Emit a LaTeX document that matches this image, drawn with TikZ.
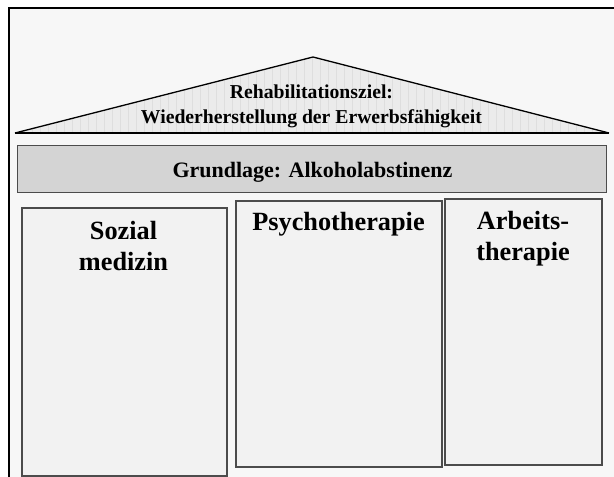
\documentclass[tikz,border=0pt]{standalone}
\usepackage{fontspec}
\setmainfont{Liberation Serif}
\begin{document}
\begin{tikzpicture}[x=1pt,y=-1pt,
  pillar/.style={draw=black!70,line width=1.1pt,fill=black!5},
  label/.style={align=center,inner sep=0pt,anchor=base},
  rooftext/.style={label,font=\bfseries\fontsize{19.7}{24.5}\selectfont},
  basetext/.style={label,font=\bfseries\fontsize{22}{26}\selectfont},
  bigtext/.style={label,font=\bfseries\fontsize{26.3}{31}\selectfont}]
\useasboundingbox (0,0) rectangle (614,477);
% page background and frame
\fill[white] (0,0) rectangle (614,477);
\fill[black!3] (9,8) rectangle (620,480);
\draw[line width=2pt] (9,480) -- (9,8) -- (620,8);
% roof
\coordinate (apex) at (313,57);
\coordinate (eaveL) at (15,133);
\coordinate (eaveR) at (609,133);
\begin{scope}
  \clip (eaveL) -- (apex) -- (eaveR) -- cycle;
  \fill[black!8] (0,50) rectangle (614,140);
  \draw[black!13,line width=0.5pt,step=8] (0,48) grid (616,140);
\end{scope}
\draw[line width=1.3pt,line join=miter] (eaveL) -- (apex) -- (eaveR);
\draw[line width=2pt] (eaveL) -- (eaveR);
% multi-line labels are placed by the baseline of their last line
\node[rooftext] (goal) at (311.5,123)
  {Rehabilitationsziel:\\Wiederherstellung der Erwerbsfähigkeit};
% foundation
\draw[black!70,line width=1pt,fill=black!17] (17,145) rectangle (606,192);
\node[basetext] (base) at (312.5,177) {Grundlage: Alkoholabstinenz};
% pillars
\draw[pillar] (22,208) rectangle (227,476);
\draw[pillar] (236,201) rectangle (442,467);
\draw[pillar] (445,199) rectangle (602,465);
\node[bigtext] (soz) at (123.5,270) {Sozial\\medizin};
\node[bigtext] (psy) at (338.5,230) {Psychotherapie};
\node[bigtext] (arb) at (523,260) {Arbeits-\\therapie};
\end{tikzpicture}
\end{document}
